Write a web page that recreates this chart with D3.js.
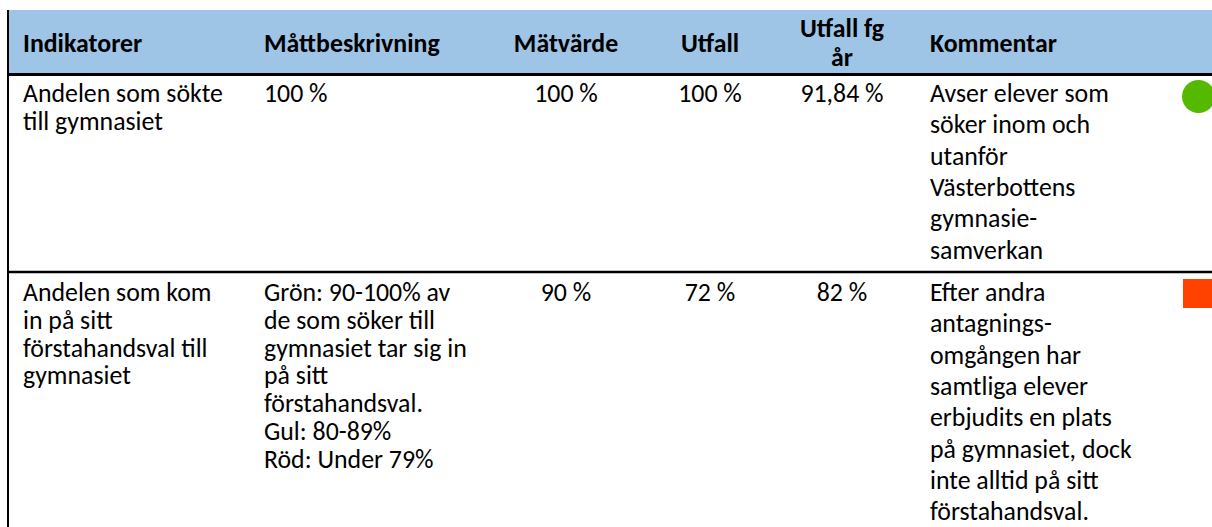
<!DOCTYPE html>
<html><head><meta charset="utf-8">
<script src="https://cdn.jsdelivr.net/npm/d3@7"></script>
<style>html,body{margin:0;padding:0;background:#fff;overflow:hidden}</style>
</head><body>
<svg id="chart" width="1212" height="527"></svg>
<script>
// ---- data ----
const headers = [["Indikatorer"], ["Måttbeskrivning"], ["Mätvärde"], ["Utfall"], ["Utfall fg", "år"], ["Kommentar"]];
const indicators = [["Andelen som sökte", "till gymnasiet"], ["Andelen som kom", "in på sitt", "förstahandsval till", "gymnasiet"]];
const descriptions = [["100 %"], ["Grön: 90-100% av", "de som söker till", "gymnasiet tar sig in", "på sitt", "förstahandsval.", "Gul: 80-89%", "Röd: Under 79%"]];
const targets = ["100 %", "90 %"];
const outcomes = ["100 %", "72 %"];
const prevOutcomes = ["91,84 %", "82 %"];
const comments = [["Avser elever som", "söker inom och", "utanför", "Västerbottens", "gymnasie-", "samverkan"],
                  ["Efter andra", "antagnings-", "omgången har", "samtliga elever", "erbjudits en plats", "på gymnasiet, dock", "inte alltid på sitt", "förstahandsval."]];
const statuses = ["green", "red"];

// ---- layout ----
const W = 1212, H = 527;
const svg = d3.select("#chart");
const fontFamily = "Carlito, Calibri, Lato, 'Noto Sans', sans-serif";

// measure font size to match reference text width
const probe = svg.append("text").attr("font-family", fontFamily).attr("font-size", 100).text("Andelen som sökte");
const w100 = probe.node().getComputedTextLength();
probe.remove();
const fs = Math.max(18, Math.min(27, 100 * 200 / w100));

const colKeys = d3.range(6);
const colX = d3.scaleOrdinal().domain(colKeys).range([23, 264, 566, 710, 842, 930]);
const colAnchor = d3.scaleOrdinal().domain(colKeys).range(["start", "start", "middle", "middle", "middle", "start"]);
const colStep = d3.scaleOrdinal().domain(colKeys).range([27.8, 27.8, 27.8, 27.8, 27.8, 31.3]);
const rowTop = d3.scaleOrdinal().domain([0, 1]).range([75, 272]);
const statusColor = d3.scaleOrdinal().domain(["green", "yellow", "red"]).range(["#55B900", "#FFC000", "#FF4200"]);

// header background
svg.append("rect").attr("x", 9).attr("y", 10).attr("width", W - 9).attr("height", 64).attr("fill", "#9FC5E6");

// header text
headers.forEach((lines, i) => {
  const t = svg.append("text")
    .attr("text-anchor", colAnchor(i))
    .attr("font-family", fontFamily).attr("font-weight", "bold").attr("font-size", fs)
    .attr("fill", "#000");
  const base = lines.length === 1 ? [52] : [37, 66];
  lines.forEach((s, j) => t.append("tspan").attr("x", colX(i)).attr("y", base[j]).text(s));
});

// body rows
const rows = indicators.map((ind, r) => [ind, descriptions[r], [targets[r]], [outcomes[r]], [prevOutcomes[r]], comments[r]]);
rows.forEach((cells, r) => {
  const first = rowTop(r) + (r === 0 ? 27 : 29);
  cells.forEach((lines, c) => {
    const t = svg.append("text")
      .attr("text-anchor", colAnchor(c))
      .attr("font-family", fontFamily).attr("font-size", fs)
      .attr("fill", "#000");
    lines.forEach((s, j) => t.append("tspan").attr("x", colX(c)).attr("y", first + j * colStep(c)).text(s));
  });
  // status marker
  const s = statuses[r];
  if (s === "green") {
    svg.append("circle").attr("cx", 1198.5).attr("cy", rowTop(r) + 21.5).attr("r", 16.5).attr("fill", statusColor(s));
  } else {
    svg.append("rect").attr("x", 1183).attr("y", rowTop(r) + 7).attr("width", 30).attr("height", 29).attr("fill", statusColor(s));
  }
});

// borders
svg.append("line").attr("x1", 8).attr("x2", 8).attr("y1", 10).attr("y2", H).attr("stroke", "#000").attr("stroke-width", 2);
svg.append("line").attr("x1", 7).attr("x2", W).attr("y1", 74.5).attr("y2", 74.5).attr("stroke", "#000").attr("stroke-width", 3);
svg.append("line").attr("x1", 7).attr("x2", W).attr("y1", 272).attr("y2", 272).attr("stroke", "#000").attr("stroke-width", 2.5);
</script>
</body></html>
